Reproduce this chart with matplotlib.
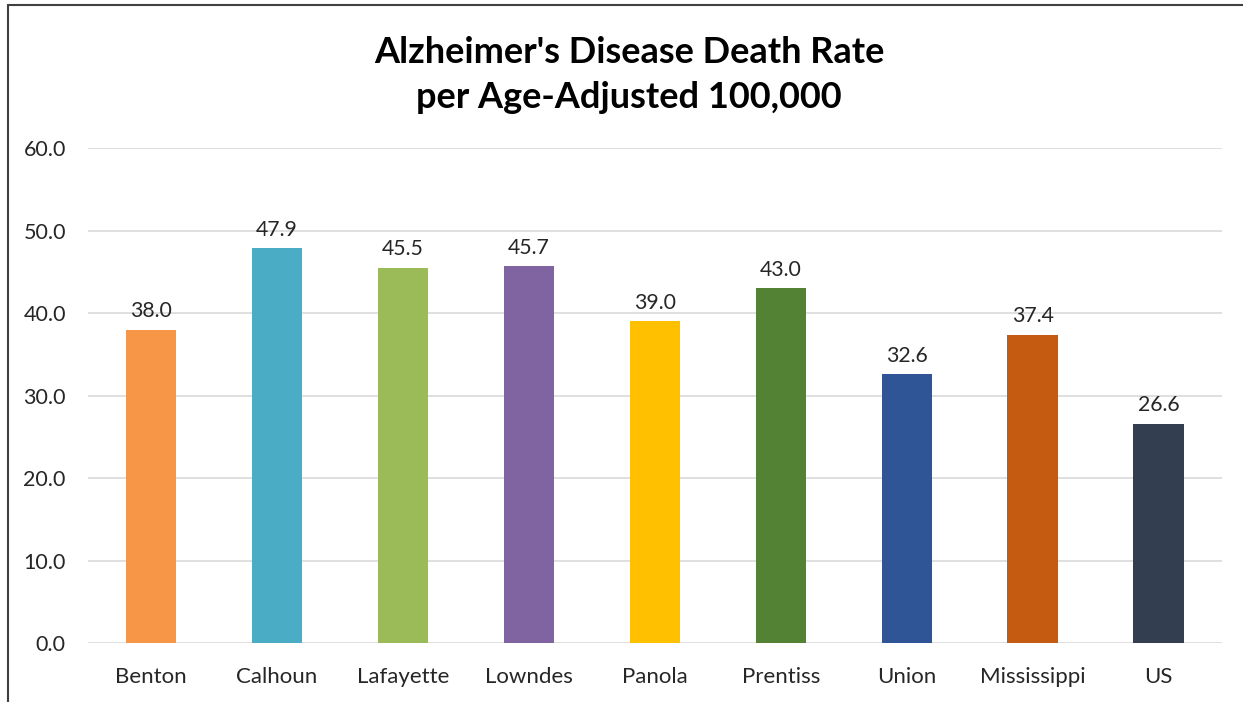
import matplotlib.pyplot as plt
from matplotlib.patches import Rectangle

# Alzheimer's death rate per 100,000 (age-adjusted)
places = ['Benton', 'Calhoun', 'Lafayette', 'Lowndes', 'Panola', 'Prentiss',
          'Union', 'Mississippi', 'US']
rates = [38.0, 47.9, 45.5, 45.7, 39.0, 43.0, 32.6, 37.4, 26.6]
colors = ['#F79646', '#4BACC6', '#9BBB59', '#8064A2', '#FFC000', '#548235',
          '#2F5597', '#C55A11', '#333F50']

plt.rcParams['font.family'] = ['Lato', 'DejaVu Sans']

figure = plt.figure(figsize=(12.43, 7.02), dpi=100)
axes = figure.add_axes([0.0708, 0.084, 0.912, 0.705])

x = range(len(places))
bars = axes.bar(x, rates, width=0.4, color=colors, zorder=3)
for xi, v in zip(x, rates):
    axes.annotate('%.1f' % v, (xi, v), xytext=(0, 6), textcoords='offset points',
                  ha='center', va='bottom', fontsize=15.3, color='#262626')

axes.set_xlim(-0.5, len(places) - 0.5)
axes.set_ylim(0, 60)
axes.set_yticks(range(0, 61, 10))
axes.set_yticklabels(['%.1f' % t for t in range(0, 61, 10)])
axes.set_xticks(list(x))
axes.set_xticklabels(places)
axes.tick_params(axis='both', length=0, labelsize=15.5, labelcolor='#262626')
axes.tick_params(axis='y', pad=16)
axes.tick_params(axis='x', pad=17, labelsize=16)
axes.grid(axis='y', color='#D9D9D9', linewidth=1.2, zorder=0)
for s in axes.spines.values():
    s.set_visible(False)

figure.text(0.506, 0.893, "Alzheimer's Disease Death Rate\nper Age-Adjusted 100,000",
            ha='center', va='center', fontsize=26, fontweight='bold',
            linespacing=1.45, color='black')

# chart frame (top and left edges show)
figure.patches.append(Rectangle((0.0065, -0.05), 1.1, 1.043, transform=figure.transFigure,
                                fill=False, edgecolor='#404040', linewidth=1.5))

figure.savefig('out.png', dpi=100)
